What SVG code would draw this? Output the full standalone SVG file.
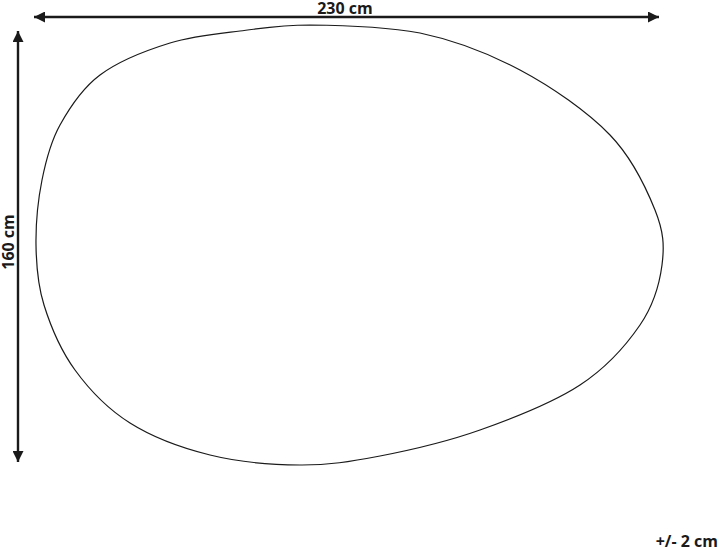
<svg xmlns="http://www.w3.org/2000/svg" width="720" height="550" viewBox="0 0 720 550">
<style>
.dim{stroke:#1a1a1a;stroke-width:2.4;fill:none}
.lbl{font-family:"Open Sans","Liberation Sans",sans-serif;font-weight:bold;font-size:16px;fill:#1a1a1a}
.outline{fill:none;stroke:#1a1a1a;stroke-width:1.2}
</style>
<defs>
<marker id="ah" markerUnits="userSpaceOnUse" markerWidth="11" markerHeight="11" refX="10" refY="5" orient="auto-start-reverse" viewBox="0 0 10 10">
<path d="M0,0 L10,5 L0,10 Z" fill="#1a1a1a"/>
</marker>
</defs>
<g id="shape">
<path class="outline" d="M310,25 C340,25.3 385,26.7 420,33 C455,40.3 488.3,53.2 520,70 C551.7,86.8 587.5,111.7 610,135 C632.5,158.3 646.3,188.3 655,210 C663.7,231.7 664.5,245.8 662,265 C659.5,284.2 653.7,305 640,325 C626.3,345 606.7,367.5 580,385 C553.3,402.5 513.3,418.2 480,430 C446.7,441.8 410,450.2 380,456 C350,461.8 328.3,465.2 300,465 C271.7,464.8 238.3,462 210,455 C181.7,448 152.5,437.2 130,423 C107.5,408.8 89.3,389.7 75,370 C60.7,350.3 50.5,325.8 44,305 C37.5,284.2 36.3,265.8 36,245 C35.7,224.2 38,200 42,180 C46,160 50.3,142.5 60,125 C69.7,107.5 81.7,88.7 100,75 C118.3,61.3 146.7,50.2 170,43 C193.3,35.8 216.7,33.8 240,31 C263.3,28.2 280,25 310,25 Z"/>
</g>
<g id="connectors">
<line class="dim" x1="34" y1="17" x2="659" y2="17" marker-start="url(#ah)" marker-end="url(#ah)"/>
<line class="dim" x1="18" y1="31" x2="18" y2="462" marker-start="url(#ah)" marker-end="url(#ah)"/>
</g>
<g id="labels">
<text class="lbl" x="345" y="13.5" text-anchor="middle">230 cm</text>
<text class="lbl" x="0" y="0" text-anchor="middle" transform="translate(14,242) rotate(-90)">160 cm</text>
<text class="lbl" x="718" y="547" text-anchor="end">+/- 2 cm</text>
</g>
</svg>
